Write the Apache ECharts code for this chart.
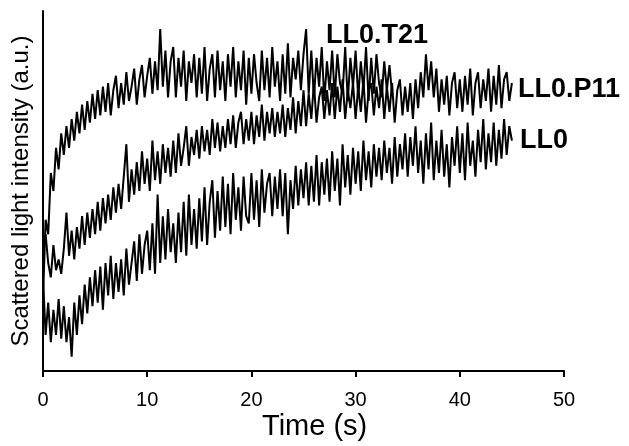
<!DOCTYPE html>
<html>
<head>
<meta charset="utf-8">
<script src="https://cdn.jsdelivr.net/npm/echarts@6/dist/echarts.min.js"></script>
<style>
  html, body { margin: 0; padding: 0; background: #fff; }
  #main { width: 629px; height: 446px; }
</style>
</head>
<body>
<div id="main"></div>
<script>
// sampling step of the recordings (s)
var dt = 0.25;
var xTicks = [0, 10, 20, 30, 40, 50];

// scattered light intensity (a.u.)
var t21 = [
  20, 42, 38, 55, 50, 62, 56, 66, 60, 68,
  62, 70, 64, 72, 66, 74, 67, 75, 69, 77,
  70, 78, 71, 79, 72, 80, 71, 78, 82, 73,
  80, 74, 83, 75, 79, 84, 74, 81, 85, 76,
  82, 87, 77, 86, 78, 95, 79, 89, 76, 86,
  90, 76, 87, 79, 89, 75, 86, 80, 88, 76,
  87, 77, 90, 75, 84, 88, 76, 89, 78, 86,
  75, 88, 79, 90, 76, 86, 78, 89, 74, 87,
  77, 88, 80, 75, 89, 78, 87, 76, 90, 79,
  86, 75, 88, 77, 91, 76, 87, 81, 89, 78,
  88, 95, 77, 89, 76, 87, 79, 90, 75, 86,
  78, 89, 76, 88, 80, 77, 90, 75, 87, 79,
  89, 76, 86, 78, 90, 75, 87, 77, 88, 80,
  76, 86, 78, 85, 77
];
var p11 = [
  32, 38, 30, 26, 35, 28, 31, 27, 34, 44,
  32, 39, 31, 40, 34, 43, 35, 44, 37, 45,
  38, 47, 39, 48, 41, 49, 42, 51, 44, 52,
  45, 54, 63, 47, 56, 49, 58, 50, 61, 52,
  59, 50, 64, 53, 61, 52, 63, 55, 62, 54,
  64, 55, 66, 57, 62, 68, 57, 65, 60, 67,
  59, 68, 61, 67, 60, 70, 62, 69, 61, 68,
  62, 70, 63, 71, 62, 69, 72, 63, 70, 64,
  72, 63, 71, 65, 74, 64, 72, 66, 73, 65,
  72, 66, 74, 65, 73, 67, 76, 66, 75, 68,
  78, 68, 77, 70, 80, 69, 76, 79, 70, 78,
  71, 80, 70, 79, 72, 81, 70, 78, 73, 80,
  70, 79, 72, 81, 69, 78, 80, 71, 79, 73,
  81, 70, 79, 72, 80, 69, 78, 81, 71, 79,
  72, 80, 70, 81, 73, 83, 76, 88, 78, 86,
  76, 84, 72, 81, 74, 82, 71, 80, 83, 73,
  81, 72, 82, 74, 84, 71, 80, 83, 73, 81,
  75, 84, 72, 82, 74, 85, 73, 81, 83, 75,
  80
];
var ll0 = [
  26, 10, 19, 8, 17, 10, 20, 9, 18, 8,
  15, 4, 19, 10, 21, 13, 24, 16, 26, 18,
  28, 19, 29, 17, 30, 21, 32, 20, 30, 22,
  31, 21, 34, 24, 30, 36, 25, 38, 27, 35,
  39, 28, 41, 27, 49, 30, 43, 31, 45, 33,
  41, 30, 44, 33, 47, 32, 49, 35, 45, 34,
  48, 36, 51, 35, 47, 53, 37, 50, 39, 54,
  40, 52, 38, 55, 42, 51, 39, 54, 43, 41,
  55, 42, 53, 40, 56, 44, 52, 55, 43, 54,
  45, 56, 43, 55, 38, 53, 45, 57, 46, 56,
  48, 58, 46, 57, 47, 60, 46, 58, 49, 59,
  47, 61, 50, 59, 46, 63, 51, 60, 49, 62,
  52, 61, 50, 64, 53, 61, 51, 63, 54, 62,
  53, 64, 55, 62, 52, 65, 54, 63, 56, 66,
  54, 65, 57, 68, 55, 64, 52, 66, 56, 69,
  53, 64, 55, 67, 54, 63, 51, 65, 57, 68,
  55, 66, 53, 69, 57, 64, 54, 67, 58, 70,
  56, 66, 58, 69, 57, 67, 59, 70, 60, 68,
  64
];

function toPairs(arr) {
  return arr.map(function (v, i) { return [i * dt, v]; });
}

var chart = echarts.init(document.getElementById("main"));
var font = "Liberation Sans, Arial, sans-serif";

function lineSeries(name, arr) {
  return {
    name: name,
    type: "line",
    data: toPairs(arr),
    showSymbol: false,
    symbol: "none",
    animation: false,
    lineStyle: { color: "#000", width: 2 }
  };
}

var option = {
  backgroundColor: "#fff",
  animation: false,
  textStyle: { fontFamily: font, color: "#000" },
  grid: { left: 43, right: 65, top: 11, bottom: 75, outerBoundsMode: "none" },
  xAxis: {
    type: "value",
    min: xTicks[0],
    max: xTicks[xTicks.length - 1],
    interval: 10,
    splitLine: { show: false },
    axisLine: { lineStyle: { color: "#000", width: 2 } },
    axisTick: { show: true, length: 6, lineStyle: { color: "#000", width: 2 } },
    axisLabel: { color: "#000", fontSize: 20, margin: 19 }
  },
  yAxis: {
    type: "value",
    min: 0,
    max: 100,
    name: "Scattered light intensity (a.u.)",
    nameLocation: "middle",
    nameGap: 10,
    nameTextStyle: { color: "#000", fontSize: 24 },
    splitLine: { show: false },
    axisLine: { show: true, lineStyle: { color: "#000", width: 2 } },
    axisTick: { show: false },
    axisLabel: { show: false }
  },
  series: [
    lineSeries("LL0.T21", t21),
    lineSeries("LL0.P11", p11),
    lineSeries("LL0", ll0)
  ],
  graphic: [
    { type: "text", left: 262, top: 412,
      style: { text: "Time (s)", fontSize: 29, fill: "#000", fontFamily: font } },
    { type: "text", left: 326, top: 22,
      style: { text: "LL0.T21", fontSize: 27, fontWeight: "bold", fill: "#000", fontFamily: font } },
    { type: "text", left: 518, top: 76,
      style: { text: "LL0.P11", fontSize: 27, fontWeight: "bold", fill: "#000", fontFamily: font } },
    { type: "text", left: 520, top: 127,
      style: { text: "LL0", fontSize: 27, fontWeight: "bold", fill: "#000", fontFamily: font } }
  ]
};

chart.setOption(option);
</script>
</body>
</html>
